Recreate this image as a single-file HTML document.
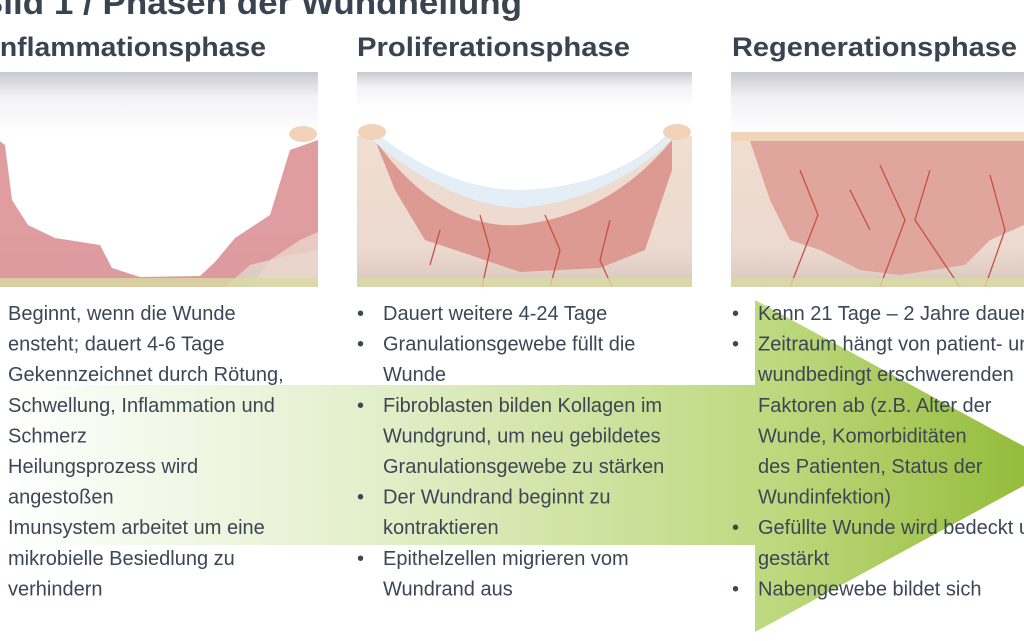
<!DOCTYPE html>
<html><head><meta charset="utf-8"><style>
html,body{margin:0;padding:0;background:#fff;width:1024px;height:641px;overflow:hidden}
svg{display:block}
text{font-family:"Liberation Sans",sans-serif}
.h{font-weight:bold;font-size:27px;fill:#3a4450}
.t{font-size:20px;fill:#3c4655}
</style></head><body>
<svg width="1024" height="641" viewBox="0 0 1024 641" xmlns="http://www.w3.org/2000/svg">
<defs>
<linearGradient id="sky" x1="0" y1="0" x2="0" y2="1">
<stop offset="0" stop-color="#c9c9d0"/><stop offset="0.12" stop-color="#f2f2f5"/><stop offset="0.3" stop-color="#fff"/></linearGradient>
<linearGradient id="skin" x1="0" y1="0" x2="0" y2="1">
<stop offset="0" stop-color="#f1ded2"/><stop offset="0.75" stop-color="#ecd9cf"/><stop offset="1" stop-color="#d9c8c0"/></linearGradient>
<linearGradient id="arr" x1="0" y1="0" x2="1" y2="0">
<stop offset="0" stop-color="#ffffff"/><stop offset="0.35" stop-color="#e3efcb"/><stop offset="0.74" stop-color="#bcd87c"/><stop offset="1" stop-color="#8fb832"/></linearGradient>
<clipPath id="c1"><rect x="0" y="72" width="318" height="215"/></clipPath>
<clipPath id="c2"><rect x="357" y="72" width="335" height="215"/></clipPath>
<clipPath id="c3"><rect x="731" y="72" width="293" height="215"/></clipPath>
</defs>

<text x="-22" y="14" font-weight="bold" font-size="33" fill="#3a4450" textLength="544" lengthAdjust="spacingAndGlyphs">Bild 1 / Phasen der Wundheilung</text>
<text class="h" x="-8" y="56" textLength="274" lengthAdjust="spacingAndGlyphs">Inflammationsphase</text>
<text class="h" x="357" y="56" textLength="273" lengthAdjust="spacingAndGlyphs">Proliferationsphase</text>
<text class="h" x="732" y="56" textLength="285" lengthAdjust="spacingAndGlyphs">Regenerationsphase</text>

<!-- panel 1 -->
<g clip-path="url(#c1)">
<rect x="0" y="72" width="318" height="215" fill="url(#skin)"/>
<path d="M0,140 L318,140 318,250 290,255 250,265 225,287 0,287 Z" fill="#dc9298" opacity="0.85"/>
<path d="M0,140 L318,140 318,200 300,230 270,260 240,287 0,287 0,240 Z" fill="#ecd9cf" opacity="0" />
<path d="M-2,140 L5,145 12,200 28,225 55,238 100,245 112,268 140,277 200,276 215,262 235,238 270,215 290,150 318,140 L318,72 0,72 Z" fill="url(#sky)"/>
<path d="M250,287 L270,260 300,240 318,232 318,287 Z" fill="#ead6cc" opacity="0.8"/>
<ellipse cx="303" cy="134" rx="14" ry="8" fill="#f2d2b8"/>
<rect x="0" y="278" width="318" height="9" fill="#d8dba2" opacity="0.8"/>
</g>

<!-- panel 2 -->
<g clip-path="url(#c2)">
<rect x="357" y="72" width="335" height="215" fill="url(#sky)"/>
<rect x="357" y="135" width="335" height="152" fill="url(#skin)"/>
<path d="M375,140 Q440,230 520,225 Q610,215 672,140 L672,170 645,250 600,268 520,272 470,255 425,240 395,190 Z" fill="#dc9a92"/>
<path d="M372,140 Q450,205 520,208 Q610,200 676,136 L668,136 Q610,188 520,190 Q450,190 382,136 Z" fill="#e3eef6"/>
<path d="M380,136 Q450,190 520,190 Q610,188 666,136 L692,136 692,72 357,72 357,136 Z" fill="url(#sky)"/>
<path d="M480,215 490,250 482,287 M545,215 560,250 550,287 M610,220 600,260 612,287 M440,230 430,265" fill="none" stroke="#c9503f" stroke-width="1.3"/>
<ellipse cx="372" cy="132" rx="14" ry="8" fill="#f2d2b8"/>
<ellipse cx="677" cy="132" rx="14" ry="8" fill="#f2d2b8"/>
<rect x="357" y="278" width="335" height="9" fill="#d8dba2" opacity="0.8"/>
</g>

<!-- panel 3 -->
<g clip-path="url(#c3)">
<rect x="731" y="72" width="293" height="215" fill="url(#sky)"/>
<rect x="731" y="132" width="293" height="155" fill="url(#skin)"/>
<rect x="731" y="132" width="293" height="9" fill="#f0d5b8"/>
<path d="M750,141 L1024,141 1024,225 990,240 965,265 900,275 860,270 820,250 790,240 770,200 Z" fill="#e0a59c"/>
<path d="M800,170 818,215 790,287 M880,165 905,220 880,287 M930,170 915,220 960,287 M990,175 1005,230 985,287 M850,190 870,230" fill="none" stroke="#c9503f" stroke-width="1.3"/>
<rect x="731" y="278" width="293" height="9" fill="#d8dba2" opacity="0.8"/>
</g>

<!-- arrow -->
<path d="M0,385 L755,385 755,300 1060,466 755,632 755,545 0,545 Z" fill="url(#arr)"/>

<g class="t">
<text x="8" y="320">Beginnt, wenn die Wunde</text>
<text x="8" y="350.6">ensteht; dauert 4-6 Tage</text>
<text x="8" y="381.2">Gekennzeichnet durch Rötung,</text>
<text x="8" y="411.8">Schwellung, Inflammation und</text>
<text x="8" y="442.4">Schmerz</text>
<text x="8" y="473">Heilungsprozess wird</text>
<text x="8" y="503.6">angestoßen</text>
<text x="8" y="534.2">Imunsystem arbeitet um eine</text>
<text x="8" y="564.8">mikrobielle Besiedlung zu</text>
<text x="8" y="595.4">verhindern</text>
</g>
<g class="t">
<text x="357" y="320">•</text><text x="383" y="320">Dauert weitere 4-24 Tage</text>
<text x="357" y="350.6">•</text><text x="383" y="350.6">Granulationsgewebe füllt die</text>
<text x="383" y="381.2">Wunde</text>
<text x="357" y="411.8">•</text><text x="383" y="411.8">Fibroblasten bilden Kollagen im</text>
<text x="383" y="442.4">Wundgrund, um neu gebildetes</text>
<text x="383" y="473">Granulationsgewebe zu stärken</text>
<text x="357" y="503.6">•</text><text x="383" y="503.6">Der Wundrand beginnt zu</text>
<text x="383" y="534.2">kontraktieren</text>
<text x="357" y="564.8">•</text><text x="383" y="564.8">Epithelzellen migrieren vom</text>
<text x="383" y="595.4">Wundrand aus</text>
</g>
<g class="t">
<text x="732" y="320">•</text><text x="758" y="320">Kann 21 Tage – 2 Jahre dauern</text>
<text x="732" y="350.6">•</text><text x="758" y="350.6">Zeitraum hängt von patient- und</text>
<text x="758" y="381.2">wundbedingt erschwerenden</text>
<text x="758" y="411.8">Faktoren ab (z.B. Alter der</text>
<text x="758" y="442.4">Wunde, Komorbiditäten</text>
<text x="758" y="473">des Patienten, Status der</text>
<text x="758" y="503.6">Wundinfektion)</text>
<text x="732" y="534.2">•</text><text x="758" y="534.2">Gefüllte Wunde wird bedeckt und</text>
<text x="758" y="564.8">gestärkt</text>
<text x="732" y="595.4">•</text><text x="758" y="595.4">Nabengewebe bildet sich</text>
</g>
</svg>
</body></html>
